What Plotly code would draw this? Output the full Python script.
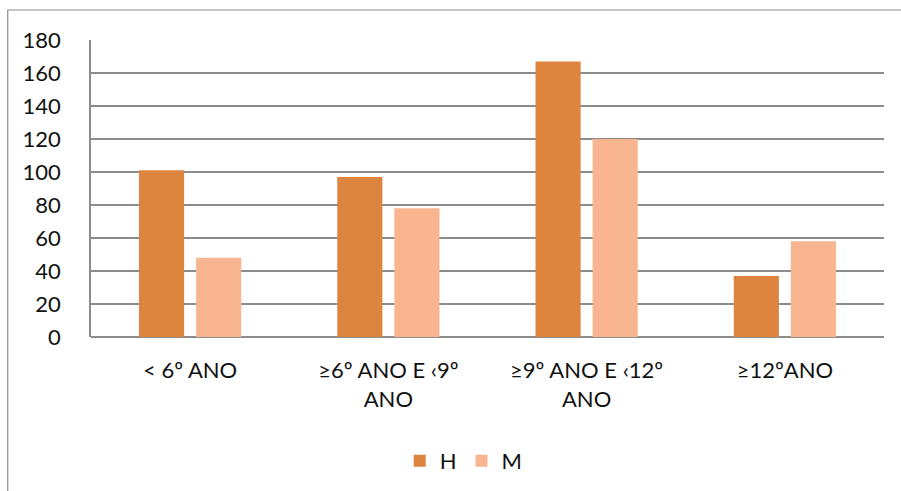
import plotly.graph_objects as go

categories = ["< 6º ANO", "≥6º ANO E ‹9º ANO", "≥9º ANO E ‹12º ANO", "≥12ºANO"]
tick_labels = ["< 6º ANO", "≥6º ANO E ‹9º<br>ANO", "≥9º ANO E ‹12º<br>ANO", "≥12ºANO"]
series_h = [101, 97, 167, 37]
series_m = [48, 78, 120, 58]
y_ticks = [0, 20, 40, 60, 80, 100, 120, 140, 160, 180]

FONT = "Lato, 'Open Sans', sans-serif"
GRID = "#8c8c8c"

fig = go.Figure()
fig.add_trace(go.Bar(name="H", x=categories, y=series_h, marker=dict(color="#DD843F", line=dict(width=0))))
fig.add_trace(go.Bar(name="M", x=categories, y=series_m, marker=dict(color="#F8B58F", line=dict(width=0))))

fig.update_layout(
    width=901, height=491,
    margin=dict(l=91, r=17, t=40, b=154, autoexpand=False),
    paper_bgcolor="white", plot_bgcolor="white",
    barmode="group", bargap=0.424, bargroupgap=0.21,
    font=dict(family=FONT, size=22, color="#111111"),
    showlegend=True,
    legend=dict(orientation="h", x=0.47, xanchor="center", y=-0.417, yanchor="middle",
                font=dict(size=22), traceorder="normal"),
    xaxis=dict(tickmode="array", tickvals=categories, ticktext=tick_labels,
               showgrid=False, showline=False, zeroline=False, automargin=False,
               ticks="outside", ticklen=14, tickcolor="rgba(0,0,0,0)",
               tickfont=dict(size=22)),
    yaxis=dict(range=[0, 180], tickmode="array", tickvals=y_ticks, automargin=False,
               showgrid=True, gridcolor=GRID, gridwidth=1.5,
               showline=True, linecolor=GRID, linewidth=1.5,
               zeroline=True, zerolinecolor=GRID, zerolinewidth=1.5,
               ticks="outside", ticklen=24, tickcolor="rgba(0,0,0,0)",
               tickfont=dict(size=22)),
    shapes=[dict(type="rect", xref="paper", yref="paper",
                 x0=-0.105, x1=1.05, y0=-0.6, y1=1.101,
                 line=dict(color="#8c8c8c", width=1.2), fillcolor="rgba(0,0,0,0)", layer="below")],
)

fig.write_html("out.html", config={"displayModeBar": False},
               post_script="document.body.style.margin='0';document.body.style.overflow='hidden';")
